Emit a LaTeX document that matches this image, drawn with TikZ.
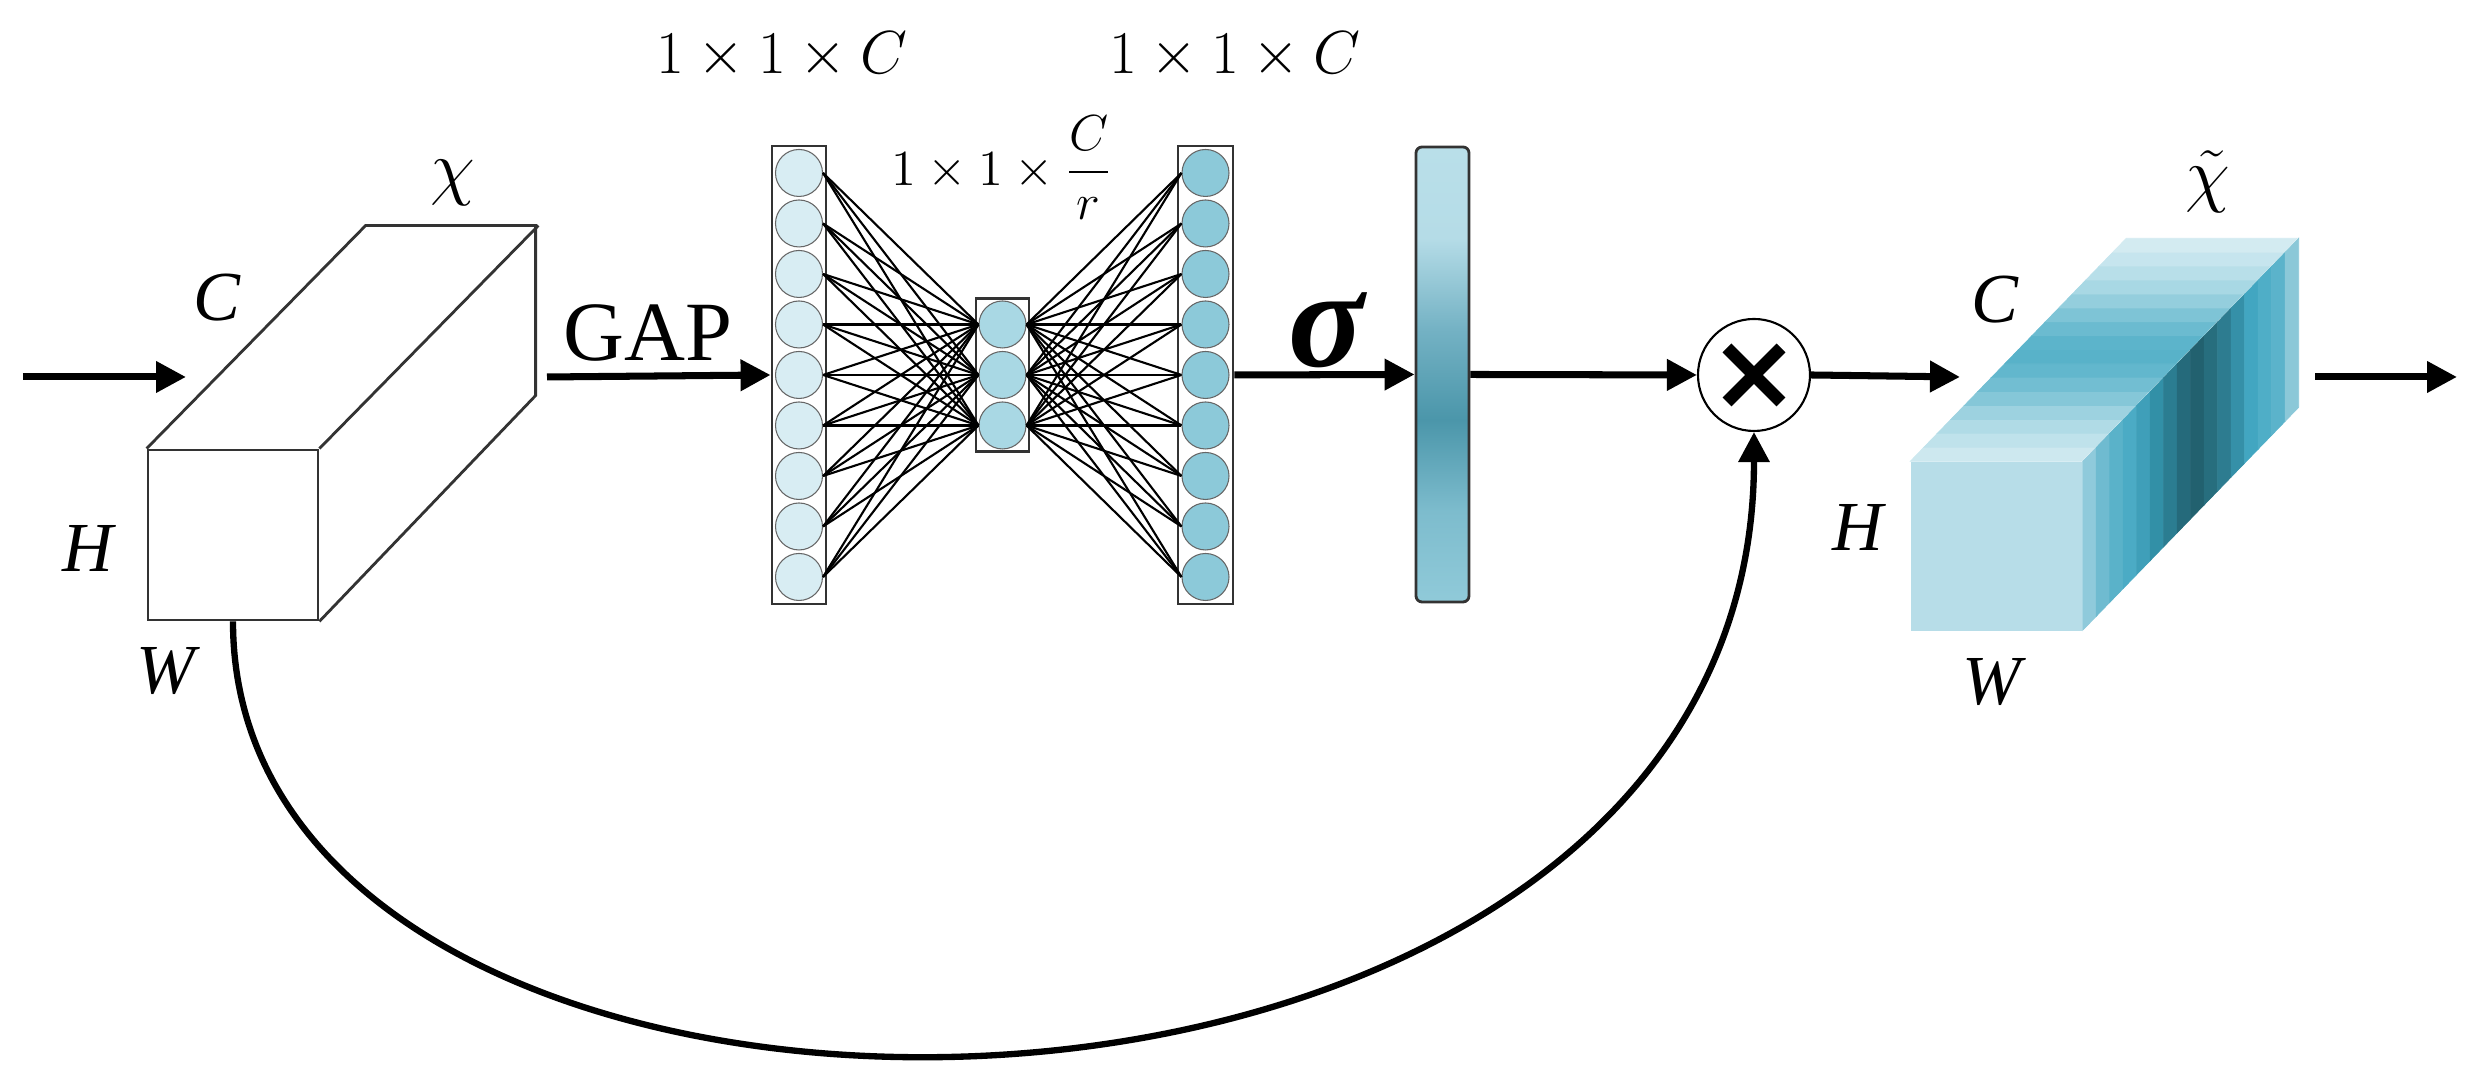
\documentclass[tikz,border=0pt]{standalone}
\usepackage{amsmath}
\usepackage{fontspec}
\setmainfont{Liberation Serif}
\usetikzlibrary{arrows.meta, positioning, calc}
\definecolor{cLight}{HTML}{D8EDF3}
\definecolor{cMid}{HTML}{A9D8E4}
\definecolor{cDeep}{HTML}{8CC9D9}
\definecolor{cFace}{HTML}{B7DDE8}
\definecolor{cEdge}{HTML}{333333}
\definecolor{cBarA}{HTML}{90CAD9}
\definecolor{cBarB}{HTML}{7DBCCD}
\definecolor{cBarC}{HTML}{4B96AA}
\definecolor{cBarD}{HTML}{74B2C4}
\definecolor{cBarE}{HTML}{B5DCE7}
\definecolor{cBarF}{HTML}{B9DFE9}
\pgfdeclareverticalshading{barshade}{100bp}{color(0bp)=(cBarA); color(25bp)=(cBarA); color(35bp)=(cBarB); color(45bp)=(cBarC); color(55bp)=(cBarD); color(65bp)=(cBarE); color(75bp)=(cBarF); color(100bp)=(cBarF)}

\begin{document}
\begin{tikzpicture}[
    flow/.style={-{Triangle[length=0.3cm,width=0.3cm]}, line width=2pt},
    wire/.style={line width=0.6pt},
    neuron/.style={circle, draw=gray!80!black, line width=0.3pt, minimum size=0.47cm, inner sep=0pt},
    column/.style={draw=cEdge, line width=0.8pt, inner sep=0pt},
    dimlbl/.style={font=\fontsize{20}{22}\selectfont\itshape, inner sep=0pt},
    sizelbl/.style={font=\fontsize{18}{20}\selectfont, inner sep=0pt},
    mulnode/.style={circle, draw, line width=0.6pt, minimum size=1.12cm, inner sep=0pt,
      path picture={
        \draw[line width=3.6pt] ($(path picture bounding box.center)+(-0.27,-0.27)$) -- ++(0.54,0.54);
        \draw[line width=3.6pt] ($(path picture bounding box.center)+(-0.27,0.27)$) -- ++(0.54,-0.54);
      }},
  ]
  \useasboundingbox (0,0) rectangle (24.7,10.78);

  % input feature map
  \node[draw=cEdge, fill=white, line width=0.8pt, minimum width=1.70cm, minimum height=1.70cm, inner sep=0pt] (x1) at (2.33,5.43) {};
  \draw[cEdge, line width=0.8pt] (x1.north west) -- ++(2.19,2.23) -- ++(1.70,0) -- ++(0,-1.70) -- (x1.south east)
    (x1.north east) -- ++(2.19,2.23);
  \node[dimlbl] (x1C) at (2.17,7.80) {C};
  \node[dimlbl] (x1H) at (0.88,5.29) {H};
  \node[dimlbl] (x1W) at (1.66,4.07) {W};
  \node[font=\fontsize{22}{24}\selectfont, inner sep=0pt] (x1lbl) at (4.53,8.95) {$\chi$};

  \coordinate (in0) at (0.23,7.01);
  \coordinate (in1) at (1.86,7.01);
  \draw[flow] (in0) -- (in1);

  % excitation network
  \node[column, minimum width=0.54cm, minimum height=4.58cm] (col1) at (7.99,7.03) {};
  \node[column, minimum width=0.53cm, minimum height=1.53cm] (col2) at (10.025,7.03) {};
  \node[column, minimum width=0.55cm, minimum height=4.58cm] (col3) at (12.055,7.03) {};
  \foreach \i in {1,...,9} {
    \node[neuron, fill=cLight] (a\i) at ($(col1.center)+(0,{(5-\i)*0.505})$) {};
    \node[neuron, fill=cDeep] (c\i) at ($(col3.center)+(0,{(5-\i)*0.505})$) {};
  }
  \foreach \j in {1,2,3}
    \node[neuron, fill=cMid] (b\j) at ($(col2.center)+(0,{(2-\j)*0.505})$) {};
  \foreach \i in {1,...,9} {
    \foreach \j in {1,2,3} {
      \draw[wire] (a\i.east) -- (b\j.west);
      \draw[wire] (b\j.east) -- (c\i.west);
    }
  }
  \node[sizelbl] (s1) at (7.82,10.23) {$1\times1\times C$};
  \node[sizelbl] (s3) at (12.35,10.23) {$1\times1\times C$};
  \node[font=\fontsize{15}{17}\selectfont, inner sep=0pt] (s2) at (10.02,9.10) {$1\times1\times\dfrac{C}{r}$};

  \coordinate (gap0) at (5.47,7.01);
  \draw[flow] (gap0) -- (col1.west);
  \node[font=\fontsize{24}{26}\selectfont, inner sep=0pt] (gaplbl) at (6.48,7.45) {GAP};

  % channel weights
  \node[draw=cEdge, line width=0.8pt, rounded corners=0.06cm, shading=barshade, minimum width=0.53cm, minimum height=4.55cm, inner sep=0pt] (bar) at (14.425,7.035) {};
  \draw[flow] (col3.east) -- (bar.west);
  \node[font=\fontsize{40}{42}\selectfont\bfseries\itshape, inner sep=0pt] (sgm) at (13.26,7.48) {σ};

  % scaling
  \node[mulnode] (mul) at (17.54,7.03) {};
  \draw[flow] (bar.east) -- (mul.west);
  \draw[flow, line width=1.8pt] (x1.south) .. controls +(0,-6.1) and +(0,-7.9) .. (mul.south);

  % recalibrated feature map
  \node[fill=cFace, minimum width=1.71cm, minimum height=1.69cm, inner sep=0pt] (x2) at (19.965,5.315) {};
  \foreach \s/\t [count=\i from 0] in {8FCADB/CDE8EF, 6FBBD0/BFE2EB, 5AB2C9/B0DBE6, 4BABC5/9DD2E0,
      3F9FB9/85C7D8, 3290A7/72BED2, 2B7D91/62B7CD, 256A7B/58B2C9, 22616F/5CB4CB, 276E7E/6BBBD0,
      2D7C90/7EC4D6, 3590A8/94CEDD, 42A6C1/A8D8E4, 4FAEC7/B8DFE9, 5BB3CB/C6E5EE, 8BC8D8/D3EBF1} {
    \definecolor{sideTmp}{HTML}{\s}
    \definecolor{topTmp}{HTML}{\t}
    \filldraw[sideTmp, line width=0.2pt] ($(x2.north east)+\i*(0.135,0.139375)$) -- ++(0.135,0.139375) -- ++(0,-1.69) -- ++(-0.135,-0.139375) -- cycle;
    \filldraw[topTmp, line width=0.2pt] ($(x2.north west)+\i*(0.135,0.139375)$) -- ++(0.135,0.139375) -- ++(1.71,0) -- ++(-0.135,-0.139375) -- cycle;
  }
  \node[dimlbl] (x2C) at (19.95,7.78) {C};
  \node[dimlbl] (x2H) at (18.58,5.50) {H};
  \node[dimlbl] (x2W) at (19.92,3.96) {W};
  \node[font=\fontsize{22}{24}\selectfont, inner sep=0pt] (x2lbl) at (22.08,8.96) {$\tilde{\chi}$};

  \coordinate (out0) at (19.60,7.01);
  \draw[flow] (mul.east) -- (out0);
  \coordinate (out1) at (23.15,7.01);
  \coordinate (out2) at (24.57,7.01);
  \draw[flow] (out1) -- (out2);
\end{tikzpicture}
\end{document}
